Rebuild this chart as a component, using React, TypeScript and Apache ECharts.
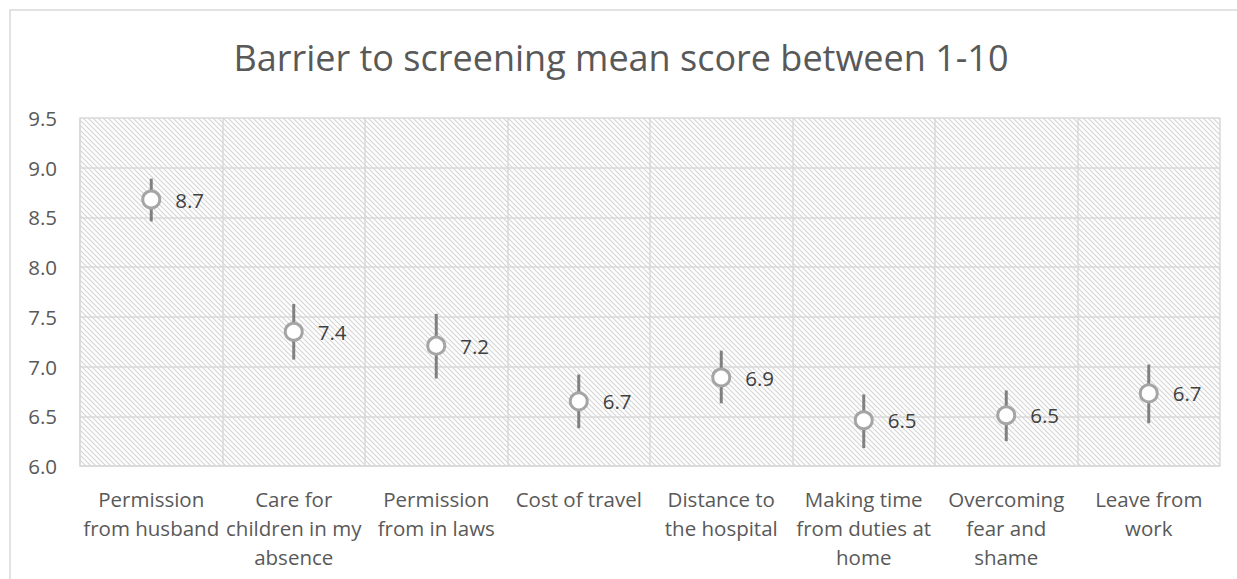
import React, { useEffect, useRef } from "react";
import * as echarts from "echarts";

const categories = [
  "Permission\nfrom husband",
  "Care for\nchildren in my\nabsence",
  "Permission\nfrom in laws",
  "Cost of travel",
  "Distance to\nthe hospital",
  "Making time\nfrom duties at\nhome",
  "Overcoming\nfear and\nshame",
  "Leave from\nwork",
];
const means = [8.68, 7.35, 7.21, 6.65, 6.89, 6.46, 6.51, 6.73];
const lows = [8.46, 7.07, 6.88, 6.38, 6.63, 6.18, 6.25, 6.43];
const highs = [8.89, 7.63, 7.53, 6.92, 7.16, 6.72, 6.76, 7.02];
const meanLabels = ["8.7", "7.4", "7.2", "6.7", "6.9", "6.5", "6.5", "6.7"];
const yTicks = { min: 6, max: 9.5, interval: 0.5 };

const FONT = "'Open Sans', 'Noto Sans', sans-serif";

const hatchSvg =
  "data:image/svg+xml;utf8," +
  encodeURIComponent(
    "<svg xmlns='http://www.w3.org/2000/svg' width='5' height='5'>" +
      "<rect width='5' height='5' fill='white'/>" +
      "<path d='M-1,-1 L6,6 M-1,4 L1,6 M4,-1 L6,1' stroke='#d4d4d4' stroke-width='1.1'/>" +
      "</svg>"
  );

export default function App() {
  const ref = useRef<HTMLDivElement>(null);
  useEffect(() => {
    document.body.style.margin = "0";
    if (!ref.current) return;
    const chart = echarts.init(ref.current, null, { renderer: "svg" });
    const img = new Image();
    img.src = hatchSvg;
    const errData = categories.map((_, i) => [i, lows[i], highs[i]]);
    const option: any = {
      animation: false,
      backgroundColor: "#ffffff",
      title: {
        text: "Barrier to screening mean score between 1-10",
        left: 616,
        textAlign: "center",
        top: 34,
        textStyle: {
          fontFamily: FONT,
          fontSize: 36,
          fontWeight: "normal",
          color: "#595959",
        },
      },
      graphic: [
        {
          type: "rect",
          shape: { x: 10, y: 10, width: 1260, height: 620 },
          style: { fill: "none", stroke: "#d9d9d9", lineWidth: 1.5 },
          silent: true,
          z: -10,
        },
      ],
      grid: {
        left: 80,
        right: 17,
        top: 118,
        bottom: 113,
        show: true,
        borderWidth: 0,
        backgroundColor: { image: img, repeat: "repeat" },
      },
      xAxis: {
        type: "category",
        data: categories,
        boundaryGap: true,
        axisLine: { show: true, lineStyle: { color: "#d9d9d9", width: 1.5 } },
        axisTick: { show: false },
        splitLine: { show: true, lineStyle: { color: "#d9d9d9", width: 1.5 } },
        axisLabel: {
          interval: 0,
          margin: 18,
          fontFamily: FONT,
          fontSize: 20.5,
          lineHeight: 29,
          color: "#595959",
          align: "center",
        },
      },
      yAxis: {
        type: "value",
        min: yTicks.min,
        max: yTicks.max,
        interval: yTicks.interval,
        axisLine: { show: true, lineStyle: { color: "#d9d9d9", width: 1.5 } },
        axisTick: { show: false },
        splitLine: { show: true, lineStyle: { color: "#d9d9d9", width: 1.5 } },
        axisLabel: {
          margin: 23,
          fontFamily: FONT,
          fontSize: 20.5,
          color: "#595959",
          formatter: (v: number) => v.toFixed(1),
        },
      },
      series: [
        {
          type: "custom",
          data: errData,
          z: 2,
          renderItem: (params: any, api: any) => {
            const x = api.value(0);
            const p1 = api.coord([x, api.value(1)]);
            const p2 = api.coord([x, api.value(2)]);
            return {
              type: "line",
              shape: { x1: p1[0], y1: p1[1], x2: p2[0], y2: p2[1] },
              style: { stroke: "#808080", lineWidth: 3 },
            };
          },
        },
        {
          type: "scatter",
          data: means,
          z: 3,
          symbol: "circle",
          symbolSize: 17,
          itemStyle: { color: "#ffffff", borderColor: "#a5a5a5", borderWidth: 3, opacity: 1 },
          label: {
            show: true,
            position: "right",
            distance: 14,
            fontFamily: FONT,
            fontSize: 20.5,
            color: "#404040",
            formatter: (p: any) => meanLabels[p.dataIndex],
          },
        },
      ],
    };
    const render = () => chart.setOption(option, true);
    if (img.complete) render();
    else {
      img.onload = render;
      img.onerror = render;
    }
    render();
    return () => chart.dispose();
  }, []);
  return <div ref={ref} style={{ width: 1237, height: 579 }} />;
}
